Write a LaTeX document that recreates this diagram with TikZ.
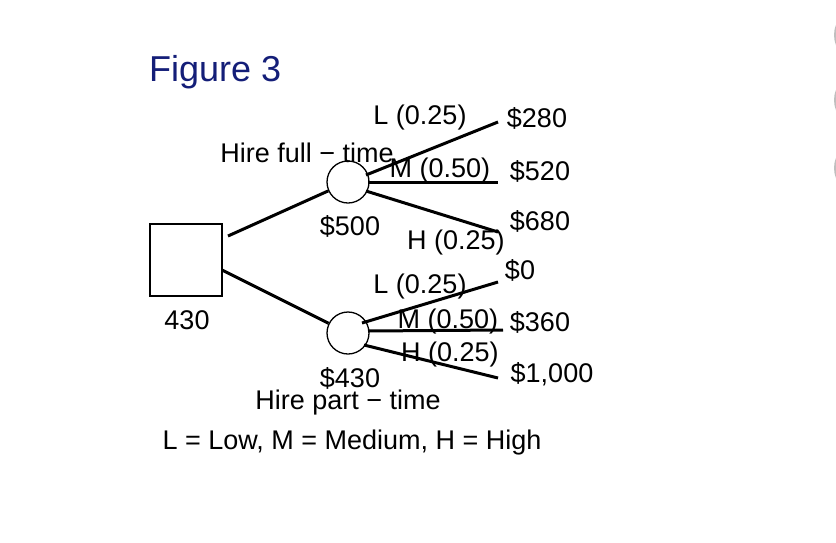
\documentclass[tikz,border=0pt]{standalone}
\usepackage{fontspec}
\setmainfont{Liberation Sans}
\begin{document}
\begin{tikzpicture}[x=1pt,y=-1pt,
  lab/.style={inner sep=0pt,font=\fontsize{27}{29}\selectfont},
  br/.style={line width=3pt},
  chance/.style={draw,circle,line width=1.3pt,minimum size=42pt,inner sep=0pt},
  dec/.style={draw,line width=1.3pt,minimum size=72pt,inner sep=0pt}]
\useasboundingbox (0,0) rectangle (836,542);
\foreach \yy in {35,100,168}{\draw[gray!50,line width=2pt,fill=white] (862,\yy) circle (27);}
\node[lab,font=\fontsize{36}{38}\selectfont,text={rgb,255:red,20;green,30;blue,120},anchor=west] (fig) at (149,72) {Figure 3};
\node[dec] (d) at (186,260) {};
\node[lab] (d430) at (187,320) {430};
\node[chance] (c1) at (348,182) {};
\node[chance] (c2) at (348,333) {};
\coordinate (d1) at (228,236);
\coordinate (d2) at (222,270);
\draw[br] (d1) -- (c1);
\draw[br] (d2) -- (c2);
\coordinate (e1) at (498,122); \coordinate (e2) at (498,182); \coordinate (e3) at (498,232);
\coordinate (e4) at (498,282); \coordinate (e5) at (503,330); \coordinate (e6) at (498,378);
\coordinate (s1) at (366,175); \coordinate (s2) at (368,182); \coordinate (s3) at (366,191);
\coordinate (s4) at (362,323); \coordinate (s5) at (368,331); \coordinate (s6) at (364,345);
\draw[br] (s1)--(e1); \draw[br] (s2)--(e2); \draw[br] (s3)--(e3);
\draw[br] (s4)--(e4); \draw[br] (s5)--(e5); \draw[br] (s6)--(e6);
\node[lab] (l1) at (420,118) {L (0.25)};
\node[lab] (v1) at (537,118) {\$280};
\node[lab] (l2) at (440,171) {M (0.50)};
\node[lab] (v2) at (540,171) {\$520};
\node[lab] (v3) at (540,221) {\$680};
\node[lab] (l3) at (456,243) {H (0.25)};
\node[lab] (p1) at (350,226) {\$500};
\node[lab] (hf) at (307,153) {Hire full − time};
\node[lab] (l4) at (420,287) {L (0.25)};
\node[lab] (v4) at (520,270) {\$0};
\node[lab] (l5) at (448,322) {M (0.50)};
\node[lab] (v5) at (540,322) {\$360};
\node[lab] (l6) at (450,355) {H (0.25)};
\node[lab] (v6) at (552,374) {\$1,000};
\node[lab] (p2) at (350,378) {\$430};
\node[lab] (hp) at (348,403) {Hire part − time};
\node[lab] (leg) at (352,443) {L = Low, M = Medium, H = High};
\end{tikzpicture}
\end{document}
